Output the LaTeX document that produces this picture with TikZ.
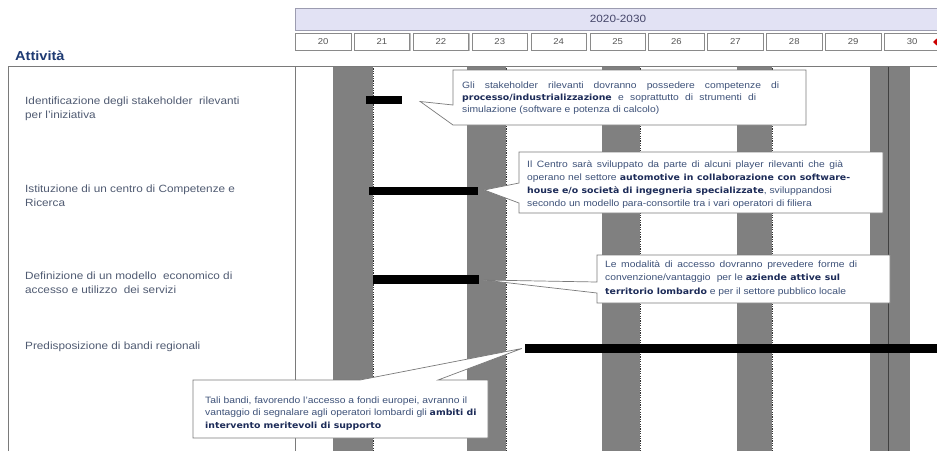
\documentclass[tikz,border=0pt]{standalone}
\usepackage{fontspec}
\setmainfont{Liberation Sans}[FakeStretch=1.12]
\newfontfamily\vfont{DejaVu Sans}[FakeStretch=1.1]
\usetikzlibrary{shapes.geometric,calc}
\definecolor{hdrfill}{HTML}{E2E2F4}
\definecolor{hdrline}{HTML}{9C9CB0}
\definecolor{cellline}{HTML}{8A8A8A}
\definecolor{colgrey}{HTML}{808080}
\definecolor{tline}{HTML}{7A7A7A}
\definecolor{labtxt}{HTML}{505B72}
\definecolor{cotxt}{HTML}{3E5279}
\definecolor{cobold}{HTML}{1C2B58}
\definecolor{navy}{HTML}{1F3B73}
\definecolor{yrtxt}{HTML}{555555}
\definecolor{pertxt}{HTML}{45466A}
\newcommand\myst{\rule{0pt}{8pt}}
\newcommand\mylst{\rule{0pt}{10pt}}
\newcommand\bt[1]{{\vfont\bfseries\fontsize{8.5}{8.5}\selectfont\color{cobold}#1}}
\newcommand\jl[2]{\makebox[#1pt][s]{#2}}
\begin{document}
\begin{tikzpicture}[x=1pt,y=-1pt,
  cell/.style={draw=cellline,fill=white,line width=0.6pt,minimum width=55.5pt,minimum height=17.5pt,inner sep=0pt,font=\fontsize{8.5}{9}\selectfont,text=yrtxt},
  bar/.style={fill=black,inner sep=0pt,minimum height=8pt},
  lab/.style={anchor=north west,inner sep=0pt,align=left,text=labtxt},
  cotext/.style={anchor=north west,inner sep=0pt,align=left,text=cotxt},
  cobox/.style={draw=tline,fill=white,line width=0.7pt,line join=miter},
  dashline/.style={draw=black!80,line width=0.6pt,dash pattern=on 1.2pt off 1.2pt}
]
\useasboundingbox (0,0) rectangle (937,451);
\fill[white] (0,0) rectangle (937,451);

% header
\draw[fill=hdrfill,draw=hdrline,line width=0.6pt] (295,8) rectangle (945,30);
\node[inner sep=0pt,font=\fontsize{10.5}{11}\selectfont,text=pertxt] (period) at (618,19) {2020-2030};
\foreach \i/\yr in {0/20,1/21,2/22,3/23,4/24,5/25,6/26,7/27,8/28,9/29,10/30}{
  \fill[black!25] (295+\i*58.9+1.2,33.4) rectangle (295+\i*58.9+56.7,51.2);
  \node[cell,anchor=north west] (yr\yr) at (295+\i*58.9,32.5) {\yr};
}
\node[diamond,fill=red!80!black,inner sep=0pt,minimum size=7pt] (endmark) at (936.5,42) {};

% title
\node[anchor=base west,inner sep=0pt,font=\bfseries\fontsize{13}{14}\selectfont,text=navy] (title) at (15,60) {Attività};

% grey columns
\foreach \a/\b in {333/373,467/506,602/640,737/772}{
  \fill[colgrey] (\a,66) rectangle (\b,451);
  \draw[dashline] (\b,66) -- (\b,451);
}
\fill[colgrey] (870,66) rectangle (910,451);
\draw[black!75,line width=0.7pt] (888,66) -- (888,451);

% table lines
\draw[tline,line width=0.9pt] (8,451) -- (8,66) -- (945,66);
\draw[tline,line width=0.9pt] (295,66) -- (295,451);

% activity labels
\begin{scope}[font=\fontsize{10.5}{14}\selectfont]
\node[lab] (l1) at (25,94) {\mylst Identificazione degli stakeholder\ \ rilevanti\\per l'iniziativa};
\node[lab] (l2) at (25,182) {\mylst Istituzione di un centro di Competenze e\\Ricerca};
\node[lab] (l3) at (25,269) {\mylst Definizione di un modello\ \ economico di\\accesso e utilizzo\ \ dei servizi};
\node[lab] (l4) at (25,339) {\mylst Predisposizione di bandi regionali};
\end{scope}

% bars
\node[bar,minimum width=36pt,minimum height=7.5pt] (b1) at (384,100) {};
\node[bar,minimum width=109pt] (b2) at (423.5,191) {};
\node[bar,minimum width=106pt,minimum height=9pt] (b3) at (425.5,279) {};
\node[bar,minimum width=420pt,minimum height=9pt] (b4) at (735,348.5) {};

% callout 1
\draw[cobox] (453,70) -- (806,70) -- (806,125) -- (453,125) -- ($(b1.east)+(18,1.5)$) -- (453,105) -- cycle;
% callout 2
\draw[cobox] (519,152) -- (883,152) -- (883,213) -- (519,213) -- (519,203) -- ($(b2.east)+(6,-1)$) -- (519,183) -- cycle;
% callout 3
\draw[cobox] (597,255) -- (890,255) -- (890,303) -- (597,303) -- (597,293) -- ($(b3.east)+(5,1)$) -- (597,282) -- cycle;
% callout 4
\draw[cobox] (193,380) -- (360,380) -- ($(b4.west)+(-3,0)$) -- (438,380) -- (488,380) -- (488,438) -- (193,438) -- cycle;

% callout texts
\node[cotext,font=\fontsize{9.2}{12}\selectfont] (c1) at (462,80) {\myst\jl{317}{Gli stakeholder rilevanti dovranno possedere competenze di}\\
\jl{294}{\bt{processo/industrializzazione} e soprattutto di strumenti di}\\
simulazione (software e potenza di calcolo)};
\node[cotext,font=\fontsize{9.2}{13}\selectfont] (c2) at (527,159) {\myst\jl{316}{Il Centro sarà sviluppato da parte di alcuni player rilevanti che già}\\
\jl{323}{operano nel settore \bt{automotive in collaborazione con software-}}\\
\bt{house e/o società di ingegneria specializzate}, sviluppandosi\\
secondo un modello para-consortile tra i vari operatori di filiera};
\node[cotext,font=\fontsize{9.2}{13.5}\selectfont] (c3) at (605,259) {\myst\jl{252}{Le modalità di accesso dovranno prevedere forme di}\\
\jl{235}{convenzione/vantaggio\ \ per le \bt{aziende attive sul}}\\
\bt{territorio lombardo} e per il settore pubblico locale};
\node[cotext,font=\fontsize{9.2}{12.5}\selectfont] (c4) at (205,395) {\myst\jl{262}{Tali bandi, favorendo l'accesso a fondi europei, avranno il}\\
vantaggio di segnalare agli operatori lombardi gli \bt{ambiti di}\\
\bt{intervento meritevoli di supporto}};
\end{tikzpicture}
\end{document}
